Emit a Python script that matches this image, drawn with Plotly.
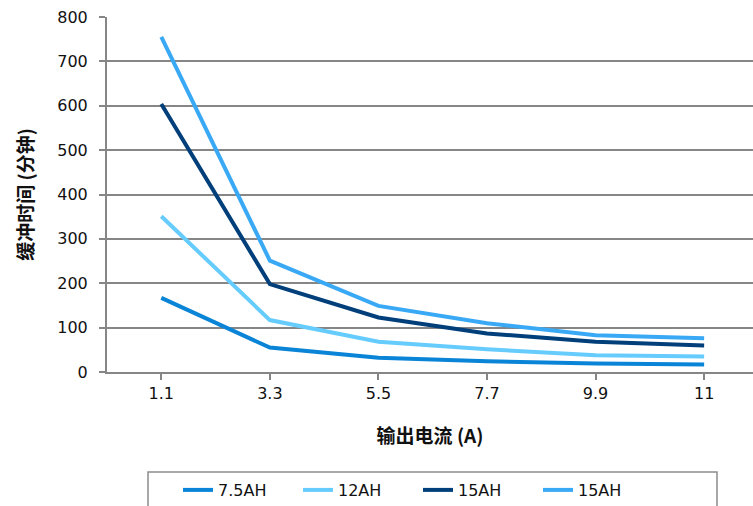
import plotly.graph_objects as go

# Output current categories (A)
currents = ["1.1", "3.3", "5.5", "7.7", "9.9", "11"]

# Backup time (minutes) per battery pack
series_names = ["7.5AH", "12AH", "15AH", "15AH"]
t_7_5ah = [167, 55, 32, 24, 19, 17]
t_12ah = [351, 117, 68, 51, 38, 35]
t_15ah_a = [604, 198, 123, 87, 68, 60]
t_15ah_b = [755, 251, 149, 110, 83, 76]
series_values = [t_7_5ah, t_12ah, t_15ah_a, t_15ah_b]
series_colors = ["#0a84d6", "#66ccfd", "#003f7a", "#3aa9f5"]

y_ticks = [0, 100, 200, 300, 400, 500, 600, 700, 800]

FONT = "DejaVu Sans, sans-serif"
CJK = "Noto Sans CJK SC"
GRID = "#868686"
TEXT = "#111111"

fig = go.Figure()
for name, vals, color in zip(series_names, series_values, series_colors):
    fig.add_trace(go.Scatter(
        x=list(range(len(currents))),
        y=vals,
        name=name,
        mode="lines",
        line=dict(color=color, width=4),
        hoverinfo="x+y+name",
    ))

# frame around the legend row
fig.add_shape(
    type="rect", xref="paper", yref="paper",
    x0=(148 - 107) / 646, x1=(717 - 107) / 646,
    y0=-0.43, y1=-(472 - 372) / 355,
    line=dict(color="#8c8c8c", width=1.5),
    fillcolor="rgba(0,0,0,0)",
    layer="below",
)

fig.update_layout(
    width=753,
    height=506,
    margin=dict(l=107, r=0, t=17, b=134, autoexpand=False),
    paper_bgcolor="white",
    plot_bgcolor="white",
    font=dict(family=FONT, size=16, color=TEXT),
    showlegend=True,
    legend=dict(
        orientation="h",
        x=(178 - 107) / 646, xanchor="left",
        y=-(490 - 372) / 355, yanchor="middle",
        bgcolor="rgba(0,0,0,0)",
        borderwidth=0,
        font=dict(family=FONT, size=16, color=TEXT),
        entrywidth=75,
        entrywidthmode="pixels",
        traceorder="normal",
    ),
    xaxis=dict(
        tickmode="array",
        tickvals=list(range(len(currents))),
        ticktext=currents,
        range=[-0.5, 5.45],
        showgrid=False,
        showline=True,
        linecolor=GRID,
        linewidth=2,
        ticks="outside",
        ticklen=6,
        tickwidth=2,
        tickcolor=GRID,
        tickfont=dict(family=FONT, size=16, color=TEXT),
        zeroline=False,
        title=dict(text="<b>输出电流 (A)</b>", font=dict(family=CJK, size=19, color=TEXT), standoff=27),
    ),
    yaxis=dict(
        range=[0, 800],
        tickmode="array",
        tickvals=y_ticks,
        showgrid=True,
        gridcolor=GRID,
        gridwidth=2,
        showline=True,
        linecolor=GRID,
        linewidth=2,
        ticks="outside",
        ticklen=6,
        tickwidth=2,
        tickcolor=GRID,
        ticklabelstandoff=8,
        tickfont=dict(family=FONT, size=16, color=TEXT),
        zeroline=False,
        title=dict(text="<b>缓冲时间 (分钟)</b>", font=dict(family=CJK, size=19, color=TEXT), standoff=19),
    ),
)

fig.write_html("out.html")
